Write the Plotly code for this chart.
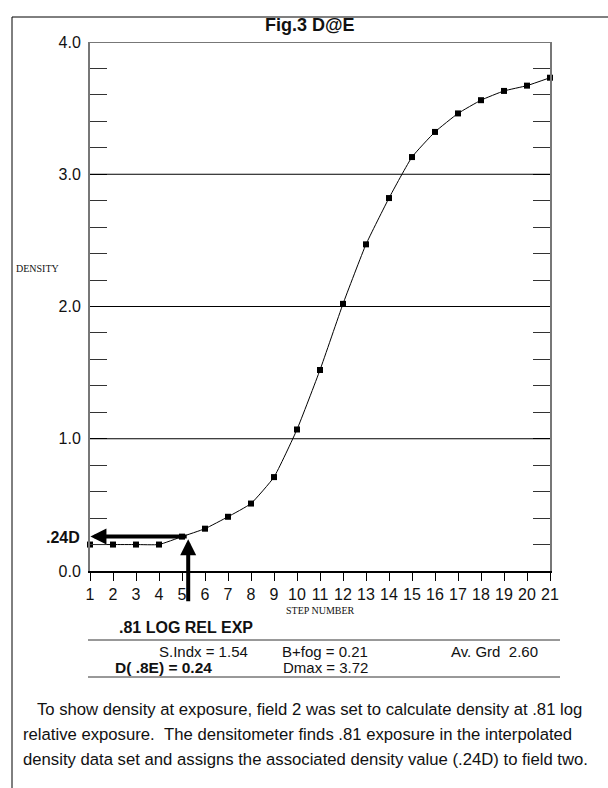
import plotly.graph_objects as go

steps = list(range(1, 22))
density = [0.20, 0.20, 0.20, 0.20, 0.26, 0.32, 0.41, 0.51, 0.71, 1.07, 1.52,
           2.02, 2.47, 2.82, 3.13, 3.32, 3.46, 3.56, 3.63, 3.67, 3.73]
grid_levels = [1, 2, 3]
y_ticks = [0, 1, 2, 3, 4]
exp_step = 5.27
exp_density = 0.26

W, H = 608, 788
L, R, T, B = 90, 550, 42, 571


def px(x):
    return (x - L) / (R - L)


def py(y):
    return (B - y) / (B - T)


fig = go.Figure()
fig.add_trace(go.Scatter(
    x=steps, y=density, mode='lines+markers',
    line=dict(color='black', width=1, shape='spline', smoothing=0.4),
    marker=dict(symbol='square', size=6, color='black'),
    showlegend=False, cliponaxis=False))

fig.update_layout(
    width=W, height=H,
    margin=dict(l=L, r=W - R, t=T, b=H - B),
    paper_bgcolor='white', plot_bgcolor='white',
    font=dict(family='Arial, Liberation Sans', size=16, color='#111'),
    xaxis=dict(range=[1, 21], tickvals=steps, showgrid=False, zeroline=False,
               showline=True, linecolor='black', linewidth=2,
               ticks='outside', ticklen=8, tickcolor='black', tickwidth=1,
               tickfont=dict(size=16)),
    yaxis=dict(range=[0, 4], tickvals=y_ticks, tickformat='.1f',
               showgrid=False, zeroline=False,
               showline=True, linecolor='#777', linewidth=2, mirror='ticks',
               ticks='inside', ticklen=17, tickcolor='black',
               ticklabelstandoff=4,
               minor=dict(dtick=0.2, ticks='inside', ticklen=17, tickcolor='#333'),
               tickfont=dict(size=16)),
)

shapes = []
for g in grid_levels:
    shapes.append(dict(type='line', xref='paper', yref='y', x0=0, x1=1, y0=g, y1=g,
                       line=dict(color='black', width=1)))
shapes.append(dict(type='line', xref='paper', yref='y', x0=0, x1=1, y0=4, y1=4,
                   line=dict(color='#777', width=2)))
# outer frame
shapes.append(dict(type='line', xref='paper', yref='paper', x0=px(12), x1=px(608),
                   y0=py(17), y1=py(17), line=dict(color='black', width=1)))
shapes.append(dict(type='line', xref='paper', yref='paper', x0=px(12), x1=px(12),
                   y0=py(17), y1=py(788), line=dict(color='black', width=1)))
# stats rules
for yy in (640, 677):
    shapes.append(dict(type='line', xref='paper', yref='paper', x0=px(88), x1=px(560),
                       y0=py(yy), y1=py(yy), line=dict(color='#333', width=1)))
fig.update_layout(shapes=shapes)


def label(text, x, y, size=16, xanchor='center', family=None):
    f = dict(size=size)
    if family:
        f['family'] = family
    return dict(text=text, x=px(x), y=py(y), xref='paper', yref='paper',
                xanchor=xanchor, yanchor='middle', showarrow=False, font=f)


ann = []
ann.append(label('<b>Fig.3 D@E</b>', 310, 25, size=18))
ann.append(label('DENSITY', 14, 268, size=10, xanchor='left',
                 family='Liberation Serif, Times New Roman'))
ann.append(label('STEP NUMBER', 320, 610, size=10,
                 family='Liberation Serif, Times New Roman'))
# arrows
ann.append(dict(x=1.02, y=exp_density, ax=exp_step, ay=exp_density, xref='x', yref='y',
                axref='x', ayref='y', text='', showarrow=True, arrowhead=2,
                arrowsize=0.8, arrowwidth=4, arrowcolor='black'))
ann.append(dict(x=exp_step, y=exp_density - 0.02, ax=exp_step, ay=-0.24, xref='x', yref='y',
                axref='x', ayref='y', text='', showarrow=True, arrowhead=2,
                arrowsize=0.8, arrowwidth=4, arrowcolor='black'))
ann.append(label('<b>.24D</b>', 82, 537, xanchor='right'))
ann.append(label('<b>.81 LOG REL EXP</b>', 186, 627))
# stats
stats = [('S.Indx = 1.54', 203, 651, 15), ('B+fog = 0.21', 325, 651, 15),
         ('Av. Grd &nbsp;2.60', 494, 651, 15), ('<b>D( .8E) = 0.24</b>', 163, 667, 15.5),
         ('Dmax = 3.72', 325, 667, 15)]
for t, x, y, s in stats:
    ann.append(label(t, x, y, size=s))
para = [('&nbsp; &nbsp;To show density at exposure, field 2 was set to calculate density at .81 log', 709),
        ('relative exposure. &nbsp;The densitometer finds .81 exposure in the interpolated', 734),
        ('density data set and assigns the associated density value (.24D) to field two.', 759)]
for t, y in para:
    ann.append(label(t, 21, y, size=16.7, xanchor='left'))
fig.update_layout(annotations=ann)

fig.write_html("out.html", config={'displayModeBar': False},
               post_script="document.body.style.margin='0px';")
